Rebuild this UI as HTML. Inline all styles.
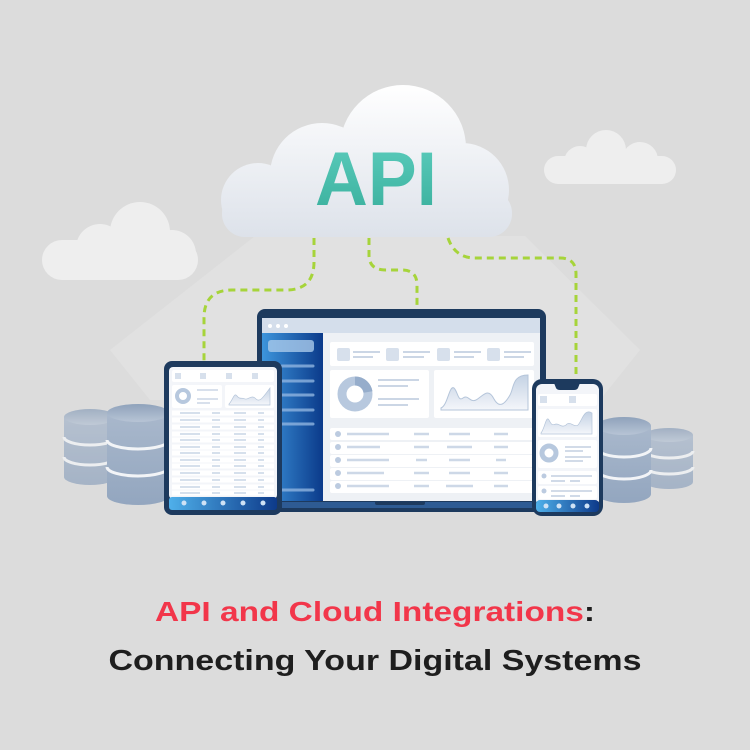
<!DOCTYPE html>
<html><head><meta charset="utf-8"><style>
html,body{margin:0;padding:0;background:#dcdcdc;}
svg{display:block}
</style></head><body>
<svg width="750" height="750" viewBox="0 0 750 750" xmlns="http://www.w3.org/2000/svg">
<defs>
<linearGradient id="cl" gradientUnits="userSpaceOnUse" x1="0" y1="84" x2="0" y2="237"><stop offset="0" stop-color="#ffffff"/><stop offset="1" stop-color="#dde2ea"/></linearGradient>
<linearGradient id="api" x1="0" y1="0" x2="0" y2="1"><stop offset="0" stop-color="#5ccdbd"/><stop offset="1" stop-color="#38ae9b"/></linearGradient>
<linearGradient id="side" x1="0" y1="0" x2="1" y2="0"><stop offset="0" stop-color="#3d95dc"/><stop offset="1" stop-color="#0b3a8a"/></linearGradient>
<linearGradient id="bar" x1="0" y1="0" x2="1" y2="0"><stop offset="0" stop-color="#4fb0ea"/><stop offset="1" stop-color="#0d3a8a"/></linearGradient>
<linearGradient id="db" x1="0" y1="0" x2="0" y2="1"><stop offset="0" stop-color="#a9b8cc"/><stop offset="1" stop-color="#93a6bf"/></linearGradient>
<linearGradient id="dbt" x1="0" y1="0" x2="0" y2="1"><stop offset="0" stop-color="#8fa2bb"/><stop offset="1" stop-color="#b7c4d5"/></linearGradient>
<linearGradient id="area" x1="0" y1="0" x2="0" y2="1"><stop offset="0" stop-color="#c4d2e4"/><stop offset="1" stop-color="#f4f6fa"/></linearGradient>
</defs>
<rect width="750" height="750" fill="#dcdcdc"/>
<!-- light beam -->
<polygon points="255,236 525,236 640,350 600,400 150,400 110,350" fill="#e1e1e1"/>
<!-- small clouds -->
<g fill="#eeeeee">
<circle cx="140" cy="232" r="30"/><circle cx="100" cy="248" r="24"/><circle cx="172" cy="254" r="24"/><rect x="42" y="240" width="156" height="40" rx="20"/>
<circle cx="606" cy="150" r="20"/><circle cx="580" cy="162" r="16"/><circle cx="640" cy="160" r="18"/><rect x="544" y="156" width="132" height="28" rx="14"/>
</g>
<!-- main cloud -->
<g fill="url(#cl)">
<circle cx="403" cy="148" r="63"/><circle cx="322" cy="175" r="52"/><circle cx="462" cy="190" r="47"/><circle cx="258" cy="200" r="37"/>
<rect x="222" y="190" width="290" height="47" rx="23"/>
</g>
<text x="376" y="205" font-family="Liberation Sans, sans-serif" font-weight="bold" font-size="76" fill="url(#api)" text-anchor="middle" textLength="122" lengthAdjust="spacingAndGlyphs">API</text>
<!-- dashed connectors -->
<g fill="none" stroke="#a6d43a" stroke-width="3" stroke-dasharray="7,5">
<path d="M314,238 L314,262 Q314,290 286,290 L232,290 Q204,290 204,318 L204,362"/>
<path d="M369,238 L369,255 Q369,270 386,270 L402,270 Q417,270 417,285 L417,310"/>
<path d="M448,238 Q455,258 475,258 L560,258 Q576,258 576,274 L576,382"/>
</g>
<!-- databases -->
<g>
<g opacity="0.75">
<path d="M64,417 L64,477 A26,8 0 0 0 116,477 L116,417 Z" fill="url(#db)"/>
<ellipse cx="90" cy="417" rx="26" ry="8" fill="url(#dbt)"/>
<path d="M64,437 A26,8 0 0 0 116,437 M64,457 A26,8 0 0 0 116,457" stroke="#f2f4f7" stroke-width="3" fill="none"/>
</g>
<path d="M107,413 L107,496 A31,9 0 0 0 169,496 L169,413 Z" fill="url(#db)"/>
<ellipse cx="138" cy="413" rx="31" ry="9" fill="url(#dbt)"/>
<path d="M107,440 A31,9 0 0 0 169,440 M107,467 A31,9 0 0 0 169,467" stroke="#f2f4f7" stroke-width="3" fill="none"/>
<g opacity="0.75">
<path d="M645,435 L645,482 A24,7 0 0 0 693,482 L693,435 Z" fill="url(#db)"/>
<ellipse cx="669" cy="435" rx="24" ry="7" fill="url(#dbt)"/>
<path d="M645,451 A24,7 0 0 0 693,451 M645,467 A24,7 0 0 0 693,467" stroke="#f2f4f7" stroke-width="3" fill="none"/>
</g>
<path d="M597,426 L597,494 A27,9 0 0 0 651,494 L651,426 Z" fill="url(#db)"/>
<ellipse cx="624" cy="426" rx="27" ry="9" fill="url(#dbt)"/>
<path d="M597,448 A27,9 0 0 0 651,448 M597,470 A27,9 0 0 0 651,470" stroke="#f2f4f7" stroke-width="3" fill="none"/>
</g>
<!-- laptop -->
<rect x="257" y="309" width="289" height="198" rx="8" fill="#1d3a5e"/>
<rect x="262" y="318" width="278" height="183" fill="#eef1f5"/>
<rect x="262" y="318" width="278" height="15" fill="#d4deeb"/>
<circle cx="270" cy="326" r="2" fill="#fff"/><circle cx="278" cy="326" r="2" fill="#fff"/><circle cx="286" cy="326" r="2" fill="#fff"/>
<rect x="262" y="333" width="61" height="168" fill="url(#side)"/>
<rect x="268" y="340" width="46" height="12" rx="3" fill="#a9c9ea" opacity="0.8"/>
<g stroke="#8fb4e0" stroke-width="3" stroke-linecap="round" opacity="0.8"><line x1="282" y1="366" x2="313" y2="366"/><line x1="282" y1="381" x2="313" y2="381"/><line x1="282" y1="395" x2="313" y2="395"/><line x1="282" y1="410" x2="313" y2="410"/><line x1="282" y1="424" x2="313" y2="424"/><line x1="282" y1="490" x2="313" y2="490"/></g>
<rect x="330" y="342" width="204" height="24" rx="2" fill="#fff"/>
<g fill="#d7e0ec"><rect x="337" y="348" width="13" height="13" rx="2"/><rect x="386" y="348" width="13" height="13" rx="2"/><rect x="437" y="348" width="13" height="13" rx="2"/><rect x="487" y="348" width="13" height="13" rx="2"/></g>
<g stroke="#cbd6e5" stroke-width="2"><line x1="353" y1="352" x2="380" y2="352"/><line x1="353" y1="357" x2="373" y2="357"/><line x1="403" y1="352" x2="430" y2="352"/><line x1="403" y1="357" x2="424" y2="357"/><line x1="454" y1="352" x2="481" y2="352"/><line x1="454" y1="357" x2="474" y2="357"/><line x1="504" y1="352" x2="531" y2="352"/><line x1="504" y1="357" x2="524" y2="357"/></g>
<rect x="330" y="370" width="99" height="48" rx="2" fill="#fff"/>
<circle cx="355" cy="394" r="13" fill="none" stroke="#b7c8de" stroke-width="9"/>
<path d="M355,381 A13,13 0 0 1 368,392" fill="none" stroke="#96adcb" stroke-width="9"/>
<g stroke="#cbd6e5" stroke-width="2"><line x1="378" y1="380" x2="419" y2="380"/><line x1="378" y1="386" x2="408" y2="386"/><line x1="378" y1="399" x2="419" y2="399"/><line x1="378" y1="405" x2="408" y2="405"/></g>
<rect x="434" y="370" width="100" height="48" rx="2" fill="#fff"/>
<path d="M441,408 C448,405 449,385 454,388 C458,392 458,402 463,398 C468,394 470,403 476,400 C483,396 488,387 494,399 C500,410 506,402 510,395 C514,388 512,375 528,375 L528,410 L441,410 Z" fill="url(#area)" stroke="#b5c5da" stroke-width="1"/>
<g fill="#fff"><rect x="330" y="428" width="204" height="12" rx="2"/><rect x="330" y="442" width="204" height="12" rx="2"/><rect x="330" y="455" width="204" height="12" rx="2"/><rect x="330" y="468" width="204" height="12" rx="2"/><rect x="330" y="481" width="204" height="12" rx="2"/></g>
<g fill="#bccbe0"><circle cx="338" cy="434" r="3"/><circle cx="338" cy="447" r="3"/><circle cx="338" cy="460" r="3"/><circle cx="338" cy="473" r="3"/><circle cx="338" cy="486" r="3"/></g>
<g stroke="#cdd8e7" stroke-width="2.5"><line x1="347" y1="434" x2="389" y2="434"/><line x1="414" y1="434" x2="429" y2="434"/><line x1="449" y1="434" x2="470" y2="434"/><line x1="494" y1="434" x2="508" y2="434"/><line x1="347" y1="447" x2="380" y2="447"/><line x1="414" y1="447" x2="429" y2="447"/><line x1="447" y1="447" x2="472" y2="447"/><line x1="494" y1="447" x2="508" y2="447"/><line x1="347" y1="460" x2="389" y2="460"/><line x1="416" y1="460" x2="427" y2="460"/><line x1="449" y1="460" x2="470" y2="460"/><line x1="496" y1="460" x2="506" y2="460"/><line x1="347" y1="473" x2="384" y2="473"/><line x1="414" y1="473" x2="429" y2="473"/><line x1="449" y1="473" x2="470" y2="473"/><line x1="494" y1="473" x2="508" y2="473"/><line x1="347" y1="486" x2="389" y2="486"/><line x1="414" y1="486" x2="429" y2="486"/><line x1="446" y1="486" x2="473" y2="486"/><line x1="494" y1="486" x2="508" y2="486"/></g>
<path d="M236,501 L574,501 L574,507 Q574,512 568,512 L242,512 Q236,512 236,507 Z" fill="#1d3a5e"/>
<rect x="240" y="502" width="330" height="6" fill="#2e5b93"/>
<rect x="375" y="501" width="50" height="4" rx="2" fill="#1d3a5e"/>
<!-- tablet -->
<rect x="164" y="361" width="118" height="154" rx="8" fill="#1d3a5e"/>
<rect x="169" y="367" width="108" height="132" rx="4" fill="#f3f5f9"/>
<rect x="169" y="497" width="108" height="13" rx="3" fill="url(#bar)"/>
<g fill="#cfe2f5"><circle cx="184" cy="503" r="2.5"/><circle cx="204" cy="503" r="2.5"/><circle cx="223" cy="503" r="2.5"/><circle cx="243" cy="503" r="2.5"/><circle cx="263" cy="503" r="2.5"/></g>
<rect x="172" y="370" width="102" height="12" rx="2" fill="#fff"/>
<g fill="#d7e0ec"><rect x="175" y="373" width="6" height="6"/><rect x="200" y="373" width="6" height="6"/><rect x="226" y="373" width="6" height="6"/><rect x="252" y="373" width="6" height="6"/></g>
<rect x="172" y="385" width="50" height="23" rx="2" fill="#fff"/>
<circle cx="183" cy="396" r="6" fill="none" stroke="#b7c8de" stroke-width="4"/>
<g stroke="#cbd6e5" stroke-width="1.5"><line x1="197" y1="390" x2="218" y2="390"/><line x1="197" y1="399" x2="218" y2="399"/><line x1="197" y1="403" x2="210" y2="403"/></g>
<rect x="225" y="385" width="49" height="23" rx="2" fill="#fff"/>
<path d="M229,404 C233,400 234,392 237,396 C240,400 242,397 245,399 C248,400 252,394 256,399 C260,403 264,396 270,388 L270,405 L229,405 Z" fill="url(#area)" stroke="#b5c5da" stroke-width="0.7"/>
<g stroke="#fff" stroke-width="5">
<line x1="172" y1="413" x2="274" y2="413"/><line x1="172" y1="420" x2="274" y2="420"/><line x1="172" y1="427" x2="274" y2="427"/><line x1="172" y1="434" x2="274" y2="434"/><line x1="172" y1="440" x2="274" y2="440"/><line x1="172" y1="447" x2="274" y2="447"/><line x1="172" y1="453" x2="274" y2="453"/><line x1="172" y1="460" x2="274" y2="460"/><line x1="172" y1="466" x2="274" y2="466"/><line x1="172" y1="473" x2="274" y2="473"/><line x1="172" y1="480" x2="274" y2="480"/><line x1="172" y1="487" x2="274" y2="487"/><line x1="172" y1="493" x2="274" y2="493"/>
</g>
<g stroke="#c9d5e5" stroke-width="1.5" stroke-dasharray="20,12,8,14,12,12,6,30">
<line x1="180" y1="413" x2="272" y2="413"/><line x1="180" y1="420" x2="272" y2="420"/><line x1="180" y1="427" x2="272" y2="427"/><line x1="180" y1="434" x2="272" y2="434"/><line x1="180" y1="440" x2="272" y2="440"/><line x1="180" y1="447" x2="272" y2="447"/><line x1="180" y1="453" x2="272" y2="453"/><line x1="180" y1="460" x2="272" y2="460"/><line x1="180" y1="466" x2="272" y2="466"/><line x1="180" y1="473" x2="272" y2="473"/><line x1="180" y1="480" x2="272" y2="480"/><line x1="180" y1="487" x2="272" y2="487"/><line x1="180" y1="493" x2="272" y2="493"/>
</g>
<!-- phone -->
<rect x="532" y="379" width="71" height="137" rx="10" fill="#1d3a5e"/>
<rect x="536" y="384" width="63" height="122" rx="6" fill="#f3f5f9"/>
<path d="M554,383 L580,383 L578,388 Q577,390 574,390 L560,390 Q557,390 556,388 Z" fill="#1d3a5e"/>
<rect x="536" y="500" width="63" height="12" rx="4" fill="url(#bar)"/>
<g fill="#cfe2f5"><circle cx="546" cy="506" r="2.5"/><circle cx="559" cy="506" r="2.5"/><circle cx="573" cy="506" r="2.5"/><circle cx="587" cy="506" r="2.5"/></g>
<rect x="538" y="394" width="59" height="12" rx="2" fill="#fff"/>
<rect x="540" y="396" width="7" height="7" fill="#d7e0ec"/><rect x="569" y="396" width="7" height="7" fill="#d7e0ec"/>
<rect x="538" y="409" width="59" height="28" rx="2" fill="#fff"/>
<path d="M541,433 C545,428 546,415 549,420 C552,426 553,425 556,424 C560,424 562,428 566,425 C570,420 574,428 578,425 C582,421 584,408 592,413 L592,434 L541,434 Z" fill="url(#area)" stroke="#b5c5da" stroke-width="0.7"/>
<rect x="538" y="440" width="59" height="28" rx="2" fill="#fff"/>
<circle cx="549" cy="453" r="7" fill="none" stroke="#b7c8de" stroke-width="5"/>
<g stroke="#cbd6e5" stroke-width="1.8"><line x1="565" y1="447" x2="591" y2="447"/><line x1="565" y1="451" x2="583" y2="451"/><line x1="565" y1="457" x2="591" y2="457"/><line x1="565" y1="461" x2="583" y2="461"/></g>
<rect x="538" y="471" width="59" height="13" rx="2" fill="#fff"/><rect x="538" y="486" width="59" height="13" rx="2" fill="#fff"/>
<circle cx="544" cy="476" r="2.5" fill="#bccbe0"/><circle cx="544" cy="491" r="2.5" fill="#bccbe0"/>
<g stroke="#cbd6e5" stroke-width="1.8"><line x1="551" y1="476" x2="592" y2="476"/><line x1="551" y1="481" x2="565" y2="481"/><line x1="570" y1="481" x2="580" y2="481"/><line x1="551" y1="491" x2="592" y2="491"/><line x1="551" y1="496" x2="565" y2="496"/><line x1="570" y1="496" x2="580" y2="496"/></g>
<!-- title -->
<text x="375" y="621" font-family="Liberation Sans, sans-serif" font-weight="bold" font-size="28" text-anchor="middle" textLength="440" lengthAdjust="spacingAndGlyphs"><tspan fill="#f2364a">API and Cloud Integrations</tspan><tspan fill="#1e1e1e">:</tspan></text>
<text x="375" y="670" font-family="Liberation Sans, sans-serif" font-weight="bold" font-size="29" fill="#1e1e1e" text-anchor="middle" textLength="533" lengthAdjust="spacingAndGlyphs">Connecting Your Digital Systems</text>
</svg>
</body></html>
